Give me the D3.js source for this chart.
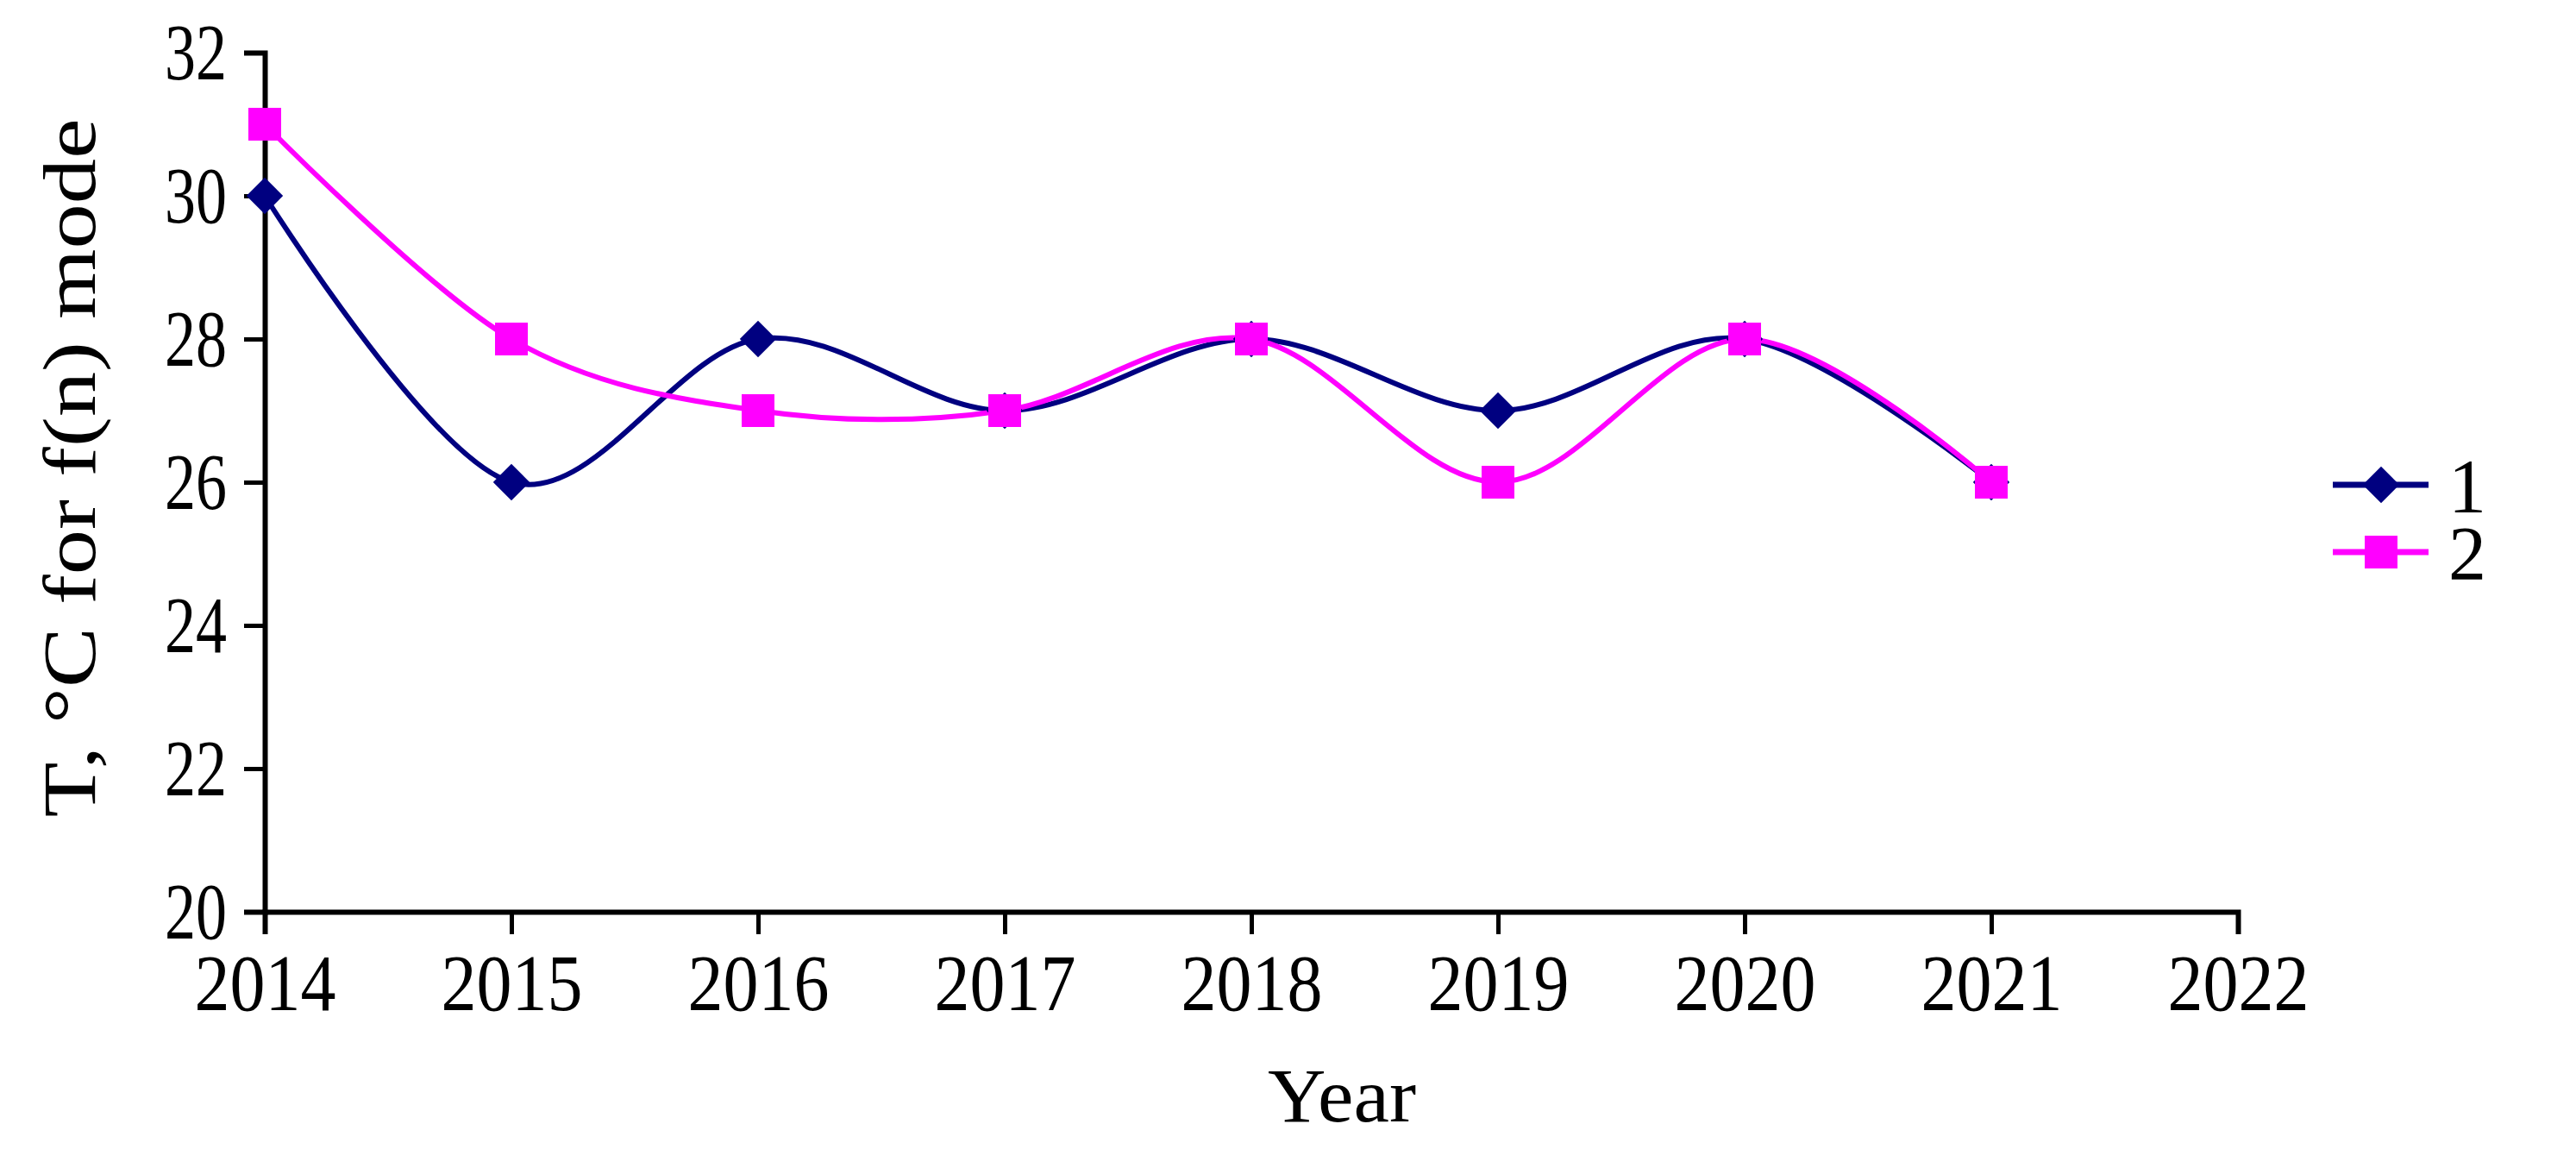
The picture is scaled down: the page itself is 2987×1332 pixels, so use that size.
<!DOCTYPE html>
<html>
<head>
<meta charset="utf-8">
<script src="https://cdn.jsdelivr.net/npm/d3@7"></script>
<style>
  body { margin: 0; background: #fff; }
  text { font-family: "Liberation Serif", "Times New Roman", serif; fill: #000; }
</style>
</head>
<body>
<svg width="2987" height="1332"></svg>
<script>
// data
const years = [2014, 2015, 2016, 2017, 2018, 2019, 2020, 2021];
const series1 = [30, 26, 28, 27, 28, 27, 28, 26];
const series2 = [31, 28, 27, 27, 28, 26, 28, 26];
const xTicks = [2014, 2015, 2016, 2017, 2018, 2019, 2020, 2021, 2022];
const yTicks = [20, 22, 24, 26, 28, 30, 32];
const seriesNames = ["1", "2"];

const svg = d3.select("svg");
const margin = {top: 61, right: 392, bottom: 275, left: 307};
const width = 2987 - margin.left - margin.right;
const height = 1332 - margin.top - margin.bottom;
const g = svg.append("g").attr("transform", `translate(${margin.left},${margin.top})`);

const x = d3.scaleLinear().domain([2014, 2022]).range([0, width]);
const y = d3.scaleLinear().domain([20, 32]).range([height, 0]);

// axes
const xAxis = g.append("g")
    .attr("transform", `translate(0,${height})`)
    .call(d3.axisBottom(x).tickValues(xTicks).tickFormat(d3.format("d")).tickSize(26).tickSizeOuter(26).tickPadding(20));
const yAxis = g.append("g")
    .call(d3.axisLeft(y).tickValues(yTicks).tickSize(24).tickSizeOuter(24).tickPadding(20));

[xAxis, yAxis].forEach(a => {
    a.select(".domain").attr("stroke", "#000").attr("stroke-width", 6);
    a.selectAll(".tick line").attr("stroke", "#000").attr("stroke-width", 5);
    a.selectAll(".tick text").attr("font-size", 94).attr("font-family", "Liberation Serif");
});
// tick digits in the picture are narrow
xAxis.selectAll(".tick text").attr("textLength", 164).attr("lengthAdjust", "spacingAndGlyphs").attr("dy", "0.72em");
yAxis.selectAll(".tick text").attr("textLength", 72).attr("lengthAdjust", "spacingAndGlyphs");

// axis titles
svg.append("text")
    .attr("x", 1556)
    .attr("y", 1300)
    .attr("text-anchor", "middle")
    .attr("font-size", 88)
    .attr("textLength", 172).attr("lengthAdjust", "spacingAndGlyphs")
    .text("Year");

svg.append("text")
    .attr("transform", `translate(110,${margin.top + y(26.2)}) rotate(-90)`)
    .attr("text-anchor", "middle")
    .attr("font-size", 86)
    .attr("textLength", 810).attr("lengthAdjust", "spacingAndGlyphs")
    .text("T, °C for f(n) mode");

const line = d3.line()
    .x((d, i) => x(years[i]))
    .y(d => y(d))
    .curve(d3.curveCardinal.tension(0));

const colors = ["#000080", "#FF00FF"];
const allSeries = [series1, series2];

function marker(sel, k) {
    // diamond for series 1, square for series 2
    if (k === 0) {
        sel.attr("x", -15).attr("y", -15).attr("width", 30).attr("height", 30);
    } else {
        sel.attr("x", -19).attr("y", -19).attr("width", 38).attr("height", 38);
    }
    sel.attr("fill", colors[k]);
}

allSeries.forEach((s, k) => {
    g.append("path")
        .datum(s)
        .attr("fill", "none")
        .attr("stroke", colors[k])
        .attr("stroke-width", 6)
        .attr("d", line);
});
allSeries.forEach((s, k) => {
    g.selectAll(".m" + k)
        .data(s)
        .enter().append("rect")
        .attr("class", "m" + k)
        .call(marker, k)
        .attr("transform", (d, i) => `translate(${x(years[i])},${y(d)})` + (k === 0 ? " rotate(45)" : ""));
});

// legend
const legend = svg.append("g").attr("transform", "translate(2705,562)");
seriesNames.forEach((name, k) => {
    const row = legend.append("g").attr("transform", `translate(0,${k * 78})`);
    row.append("line").attr("x1", 0).attr("x2", 111).attr("y1", 0).attr("y2", 0)
        .attr("stroke", colors[k]).attr("stroke-width", 7);
    row.append("rect")
        .call(marker, k)
        .attr("transform", `translate(56,0)` + (k === 0 ? " rotate(45)" : ""));
    row.append("text")
        .attr("x", 134).attr("y", 0).attr("dy", "0.35em")
        .attr("font-size", 88)
        .text(name);
});
</script>
</body>
</html>
